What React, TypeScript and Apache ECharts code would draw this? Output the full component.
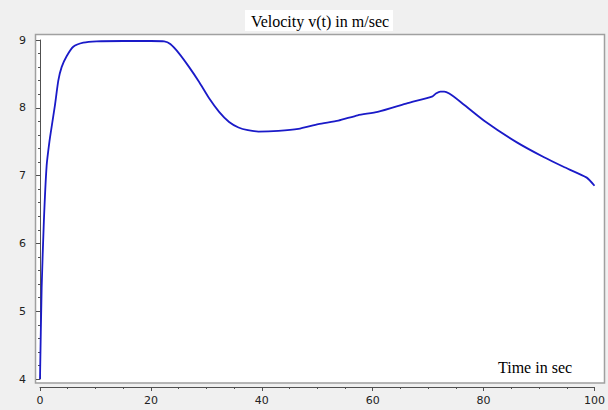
import React, { useEffect, useRef } from "react";
import * as echarts from "echarts";

const timeSec = [0, 0.3, 0.7, 1.2, 1.7, 2.1, 2.7, 3.3, 3.9, 4.8, 6.0, 7.8, 10.2, 15, 20, 22.4, 23.5, 25.1, 26.9, 28.7, 30.5, 32.3, 34.1, 35.8, 37.5, 39.4, 43, 46.6, 50.2, 53.8, 57.3, 60.9, 66.3, 70.8, 71.4, 72.2, 72.9, 73.8, 75.8, 80.1, 86, 90.9, 94.4, 98.6, 100];
const velocity = [4.0, 5.35, 6.33, 7.15, 7.5, 7.72, 8.04, 8.4, 8.6, 8.76, 8.9, 8.96, 8.98, 8.985, 8.985, 8.98, 8.94, 8.8, 8.6, 8.38, 8.14, 7.94, 7.79, 7.71, 7.67, 7.65, 7.66, 7.69, 7.76, 7.81, 7.89, 7.94, 8.07, 8.17, 8.21, 8.24, 8.24, 8.21, 8.09, 7.81, 7.49, 7.27, 7.13, 6.97, 6.85];

const titleText = "Velocity v(t) in m/sec";
const xAxisText = "Time in sec";

export default function App() {
  const ref = useRef<HTMLDivElement>(null);
  useEffect(() => {
    if (!ref.current) return;
    const chart = echarts.init(ref.current, undefined, { renderer: "svg" });
    const data = timeSec.map((t, i) => [t, velocity[i]]);
    chart.setOption({
      animation: false,
      backgroundColor: "#f0f0f0",
      grid: { left: 40, right: 9, top: 40, bottom: 31 },
      graphic: [
        {
          type: "rect",
          z: -10,
          shape: { x: 35.5, y: 34.5, width: 569, height: 348.5 },
          style: { fill: "#ffffff", stroke: "#a0a0a0", lineWidth: 1.5 },
        },
        {
          type: "rect",
          z: 10,
          shape: { x: 245, y: 10, width: 148, height: 21 },
          style: { fill: "#ffffff" },
        },
        {
          type: "text",
          z: 11,
          x: 320,
          y: 21,
          style: {
            text: titleText,
            font: "16px 'Liberation Serif', serif",
            fill: "#000000",
            align: "center",
            verticalAlign: "middle",
          },
        },
        {
          type: "text",
          z: 11,
          x: 498,
          y: 367,
          style: {
            text: xAxisText,
            font: "16px 'Liberation Serif', serif",
            fill: "#000000",
            align: "left",
            verticalAlign: "middle",
          },
        },
      ],
      xAxis: {
        type: "value",
        min: 0,
        max: 100,
        interval: 20,
        offset: 8,
        axisLine: { show: true, lineStyle: { color: "#505050", width: 1 } },
        axisTick: { show: true, length: 4, lineStyle: { color: "#505050" } },
        minorTick: { show: true, splitNumber: 4, length: 2, lineStyle: { color: "#505050" } },
        splitLine: { show: false },
        axisLabel: {
          margin: 8,
          color: "#222222",
          fontSize: 11,
          fontFamily: "'DejaVu Sans', sans-serif",
        },
      },
      yAxis: {
        type: "value",
        min: 4,
        max: 9,
        interval: 1,
        offset: 7,
        axisLine: { show: true, lineStyle: { color: "#505050", width: 1 } },
        axisTick: { show: true, length: 4, lineStyle: { color: "#505050" } },
        minorTick: { show: true, splitNumber: 5, length: 2, lineStyle: { color: "#505050" } },
        splitLine: { show: false },
        axisLabel: {
          margin: 7,
          color: "#222222",
          fontSize: 11,
          fontFamily: "'DejaVu Sans', sans-serif",
        },
      },
      series: [
        {
          type: "line",
          data,
          showSymbol: false,
          smooth: 0.2,
          lineStyle: { color: "#1a1ac8", width: 1.8 },
        },
      ],
    });
    return () => chart.dispose();
  }, []);
  return <div ref={ref} style={{ position: "fixed", left: 0, top: 0, width: 608, height: 410 }} />;
}
